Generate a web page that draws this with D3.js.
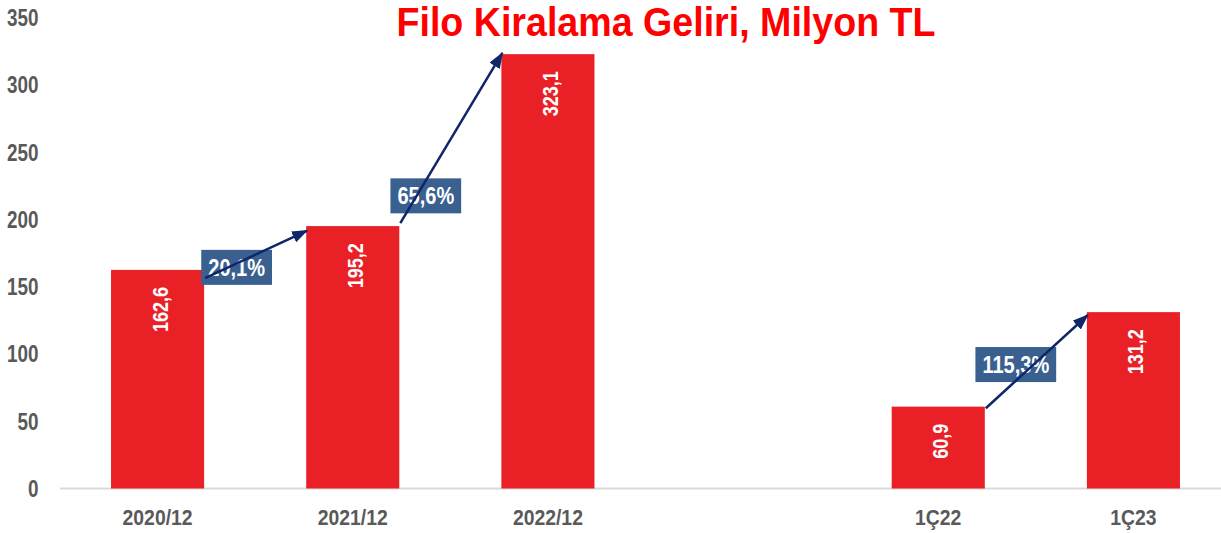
<!DOCTYPE html>
<html>
<head>
<meta charset="utf-8">
<script src="https://cdn.jsdelivr.net/npm/d3@7"></script>
<style>
    body { margin: 0; background: #fff; }
    svg text { font-family: "Liberation Sans", Arial, sans-serif; font-weight: bold; }
</style>
</head>
<body>
<svg></svg>
<script>
// chart data
const categories = ["2020/12", "2021/12", "2022/12", "", "1Ç22", "1Ç23"];
const values = [162.6, 195.2, 323.1, null, 60.9, 131.2];
const valueLabels = ["162,6", "195,2", "323,1", "", "60,9", "131,2"];
const yTicks = [0, 50, 100, 150, 200, 250, 300, 350];
const growthFrom = ["2020/12", "2021/12", "1Ç22"];
const growthTo = ["2021/12", "2022/12", "1Ç23"];
const growthLabels = ["20,1%", "65,6%", "115,3%"];
const chartTitle = "Filo Kiralama Geliri, Milyon TL";

(function () {
    const width = 1221;
    const height = 533;
    const margin = { top: 18, left: 60, bottom: 44.5, right: -10 };

    // hand drawn arrows: start / end heights (value units), box position
    const arrowStart = [156.5, 197.4, 59.7];
    const arrowEnd = [191.9, 324, 129.1];
    const boxY = [164.5, 217.7, 92.2];
    const boxDx = [31.5, 25.5, 30];

    // no narrow font installed, so squeeze the text
    function squeeze(sel, k) {
        sel.each(function () {
            let w = this.getComputedTextLength();
            d3.select(this)
                .attr("textLength", w * k)
                .attr("lengthAdjust", "spacingAndGlyphs");
        });
    }

    let svg = d3.select("svg")
        .attr("width", width)
        .attr("height", height);

    let x = d3.scaleBand()
        .domain(categories)
        .range([margin.left, width - margin.right])
        .paddingInner(0.523)
        .paddingOuter(0.2615);

    let y = d3.scaleLinear()
        .domain([0, 350])
        .range([height - margin.bottom, margin.top]);

    let data = categories.map((c, i) => ({ cat: c, value: values[i], label: valueLabels[i] }))
        .filter(d => d.value != null);

    // y tick labels
    svg.append("g")
        .selectAll("text")
        .data(yTicks)
        .enter()
        .append("text")
        .attr("x", 38.5)
        .attr("y", d => y(d))
        .attr("dy", "0.36em")
        .attr("text-anchor", "end")
        .attr("fill", "#595959")
        .style("font-size", "23px")
        .text(d => d)
        .call(squeeze, 0.82);

    // baseline
    svg.append("line")
        .attr("x1", margin.left)
        .attr("x2", width)
        .attr("y1", y(0))
        .attr("y2", y(0))
        .attr("stroke", "#d9d9d9")
        .attr("stroke-width", 2);

    // bars
    svg.append("g")
        .selectAll("rect")
        .data(data)
        .enter()
        .append("rect")
        .attr("x", d => x(d.cat))
        .attr("y", d => y(d.value))
        .attr("width", x.bandwidth())
        .attr("height", d => y(0) - y(d.value))
        .attr("fill", "#ea2027");

    // value labels, rotated, inside end
    svg.append("g")
        .selectAll("text")
        .data(data)
        .enter()
        .append("text")
        .attr("transform", d => `translate(${x(d.cat) + x.bandwidth() / 2 + 10}, ${y(d.value) + 17}) rotate(-90)`)
        .attr("text-anchor", "end")
        .attr("fill", "#fff")
        .style("font-size", "22px")
        .text(d => d.label)
        .call(squeeze, 0.82);

    // x labels
    svg.append("g")
        .selectAll("text")
        .data(data)
        .enter()
        .append("text")
        .attr("x", d => x(d.cat) + x.bandwidth() / 2)
        .attr("y", 525)
        .attr("text-anchor", "middle")
        .attr("fill", "#595959")
        .style("font-size", "22px")
        .text(d => d.cat)
        .call(squeeze, 0.88);

    // growth boxes
    let growth = growthFrom.map((f, i) => {
        let x0 = x(f) + x.bandwidth() + 1;
        let x1 = x(growthTo[i]) + 1;
        return {
            x0: x0, y0: y(arrowStart[i]),
            x1: x1, y1: y(arrowEnd[i]),
            bx: x0 + boxDx[i], by: y(boxY[i]),
            label: growthLabels[i]
        };
    });

    let box = svg.append("g")
        .selectAll("g")
        .data(growth)
        .enter()
        .append("g")
        .attr("transform", d => `translate(${d.bx}, ${d.by})`);

    let rects = box.append("rect").attr("fill", "#3a6090");

    box.append("text")
        .attr("text-anchor", "middle")
        .attr("dy", "0.36em")
        .attr("fill", "#fff")
        .style("font-size", "23px")
        .text(d => d.label)
        .call(squeeze, 0.87);

    rects.each(function () {
        let t = this.parentNode.querySelector("text");
        let w = +t.getAttribute("textLength");
        d3.select(this)
            .attr("x", -w / 2 - 7)
            .attr("width", w + 14)
            .attr("y", -17.5)
            .attr("height", 35);
    });

    // arrows
    svg.append("defs").append("marker")
        .attr("id", "head")
        .attr("markerUnits", "userSpaceOnUse")
        .attr("viewBox", "0 0 16 12")
        .attr("refX", 15)
        .attr("refY", 6)
        .attr("markerWidth", 16)
        .attr("markerHeight", 12)
        .attr("orient", "auto")
        .append("path")
        .attr("d", "M0,0L16,6L0,12Z")
        .attr("fill", "#0f2768");

    svg.append("g")
        .selectAll("line")
        .data(growth)
        .enter()
        .append("line")
        .attr("x1", d => d.x0)
        .attr("y1", d => d.y0)
        .attr("x2", d => d.x1)
        .attr("y2", d => d.y1)
        .attr("stroke", "#0f2768")
        .attr("stroke-width", 2.5)
        .attr("marker-end", "url(#head)");

    // title
    svg.append("text")
        .attr("x", 666)
        .attr("y", 36)
        .attr("text-anchor", "middle")
        .attr("fill", "#ff0000")
        .style("font-size", "40px")
        .text(chartTitle)
        .call(squeeze, 0.94);
})();
</script>
</body>
</html>
